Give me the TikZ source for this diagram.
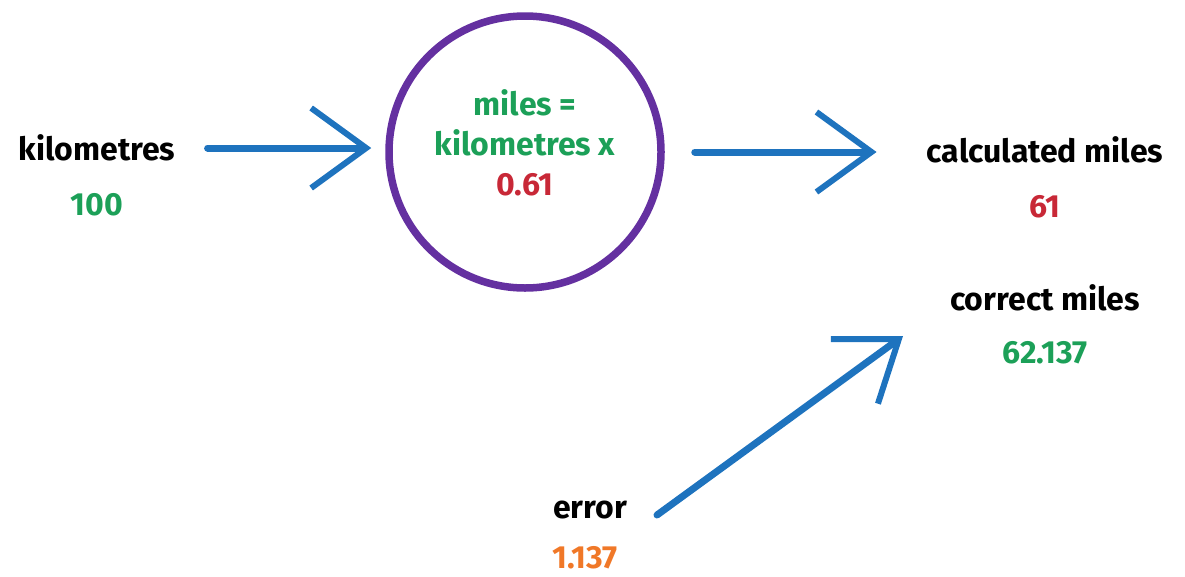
\documentclass[tikz,border=0pt]{standalone}
\usepackage{fontspec}
\setmainfont{Fira Sans}
\usetikzlibrary{arrows.meta,decorations.pathmorphing}
\definecolor{cgreen}{RGB}{28,160,88}
\definecolor{cred}{RGB}{200,40,55}
\definecolor{corange}{RGB}{240,120,40}
\definecolor{cblue}{RGB}{30,115,190}
\definecolor{cpurple}{RGB}{100,48,160}
\tikzset{
  lbl/.style={font=\fontsize{32}{36}\selectfont\bfseries, text=black, inner sep=2pt},
  val/.style={font=\fontsize{32}{36}\selectfont\bfseries, inner sep=2pt},
  arr/.style={draw=cblue, line width=7pt, line cap=round,
    -{Straight Barb[length=55pt,width=80pt,line width=6pt]}},
  ring/.style={circle, draw=cpurple, line width=7.5pt, minimum size=272pt, inner sep=0pt}
}
\begin{document}
\begin{tikzpicture}[x=1pt,y=-1pt]
\useasboundingbox (0,0) rectangle (1185,576);
\node[lbl] (km) at (97,148) {kilometres};
\node[val,text=cgreen] (kmv) at (97,205) {100};
\node[ring] (circ) at (525,152) {};
\node[val,text=cgreen] (f1) at (525,103) {miles =};
\node[val,text=cgreen] (f2) at (525,143) {kilometres x};
\node[val,text=cred] (f3) at (525,185) {0.61};
\node[lbl] (calc) at (1045,150) {calculated miles};
\node[val,text=cred] (calcv) at (1045,207) {61};
\node[lbl] (corr) at (1045,298) {correct miles};
\node[val,text=cgreen] (corrv) at (1045,353) {62.137};
\node[lbl] (err) at (590,510) {error};
\node[val,text=corange] (errv) at (585,558) {1.137};
\coordinate (a3s) at (657,515);
\coordinate (a3e) at (903,336);
\draw[arr, shorten <=30pt, shorten >=14pt] (km.east) -- (km.east -| circ.west);
\draw[arr, shorten <=30pt, shorten >=48pt] (circ.east) -- (circ.east -| calc.west);
\draw[arr] (a3s) -- (a3e);
\end{tikzpicture}
\end{document}
